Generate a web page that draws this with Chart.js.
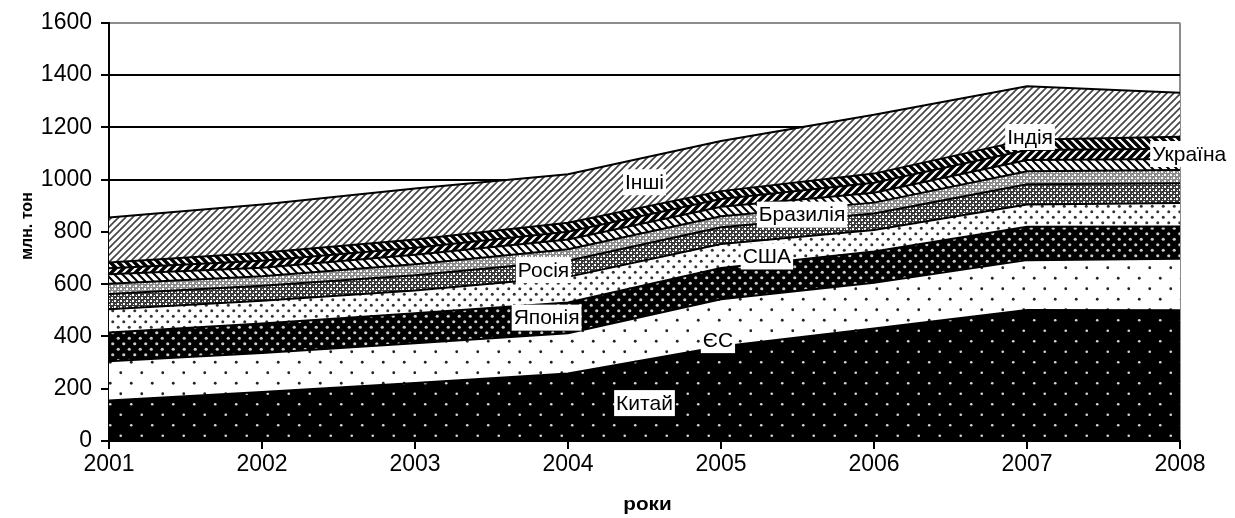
<!DOCTYPE html>
<html>
<head>
<meta charset="utf-8">
<script src="https://cdn.jsdelivr.net/npm/chart.js@4/dist/chart.umd.min.js"></script>
<style>
  html, body { margin: 0; padding: 0; background: #fff; }
</style>
</head>
<body>
<canvas id="steelChart" width="1235" height="518"></canvas>
<script>
// роки
const years = ['2001', '2002', '2003', '2004', '2005', '2006', '2007', '2008'];

// виробництво, млн. тон (знизу вгору)
const china   = [155, 187, 222, 258, 362, 430, 501, 500];
const eu      = [150, 150, 152, 154, 180, 175, 191, 197];
const japan   = [110, 113, 115, 118, 120, 120, 128, 124];
const usa     = [ 89,  87,  87,  98,  92,  82,  85,  90];
const russia  = [ 58,  57,  58,  62,  64,  63,  77,  75];
const korea   = [ 40,  36,  42,  44,  42,  42,  50,  51];
const brazil  = [ 36,  33,  37,  37,  36,  38,  43,  42];
const ukraine = [ 23,  27,  26,  30,  30,  38,  38,  39];
const india   = [ 22,  30,  32,  34,  30,  35,  40,  46];
const others  = [172, 185, 195, 186, 192, 225, 204, 168];

const yTicks = [0, 200, 400, 600, 800, 1000, 1200, 1400, 1600];

const FONT = '"Liberation Sans", Arial, sans-serif';
const ctx = document.getElementById('steelChart').getContext('2d');

// --- patterns ---
function dotPattern(bg, fg, size, r) {
    const c = document.createElement('canvas');
    c.width = size; c.height = size;
    const g = c.getContext('2d');
    g.fillStyle = bg;
    g.fillRect(0, 0, size, size);
    g.fillStyle = fg;
    [[size * 0.25, size * 0.25], [size * 0.75, size * 0.75]].forEach(p => {
        g.beginPath();
        g.arc(p[0], p[1], r, 0, Math.PI * 2);
        g.fill();
    });
    return ctx.createPattern(c, 'repeat');
}

function stripePattern(dir, size, lw, fg, bg) {
    const c = document.createElement('canvas');
    c.width = size; c.height = size;
    const g = c.getContext('2d');
    g.fillStyle = bg;
    g.fillRect(0, 0, size, size);
    g.strokeStyle = fg;
    g.lineWidth = lw;
    g.beginPath();
    if (dir === '/') {
        [0, size, 2 * size].forEach(k => { g.moveTo(k + 2, -2); g.lineTo(-2, k + 2); });
    } else {
        [-size, 0, size].forEach(k => { g.moveTo(k - 2, -2); g.lineTo(k + size + 2, size + 2); });
    }
    g.stroke();
    return ctx.createPattern(c, 'repeat');
}

function checkPattern(bg, fg) {
    const c = document.createElement('canvas');
    c.width = 6; c.height = 6;
    const g = c.getContext('2d');
    g.fillStyle = bg;
    g.fillRect(0, 0, 6, 6);
    g.fillStyle = fg;
    g.fillRect(0, 0, 2, 2);
    g.fillRect(3, 3, 2, 2);
    g.fillRect(1, 4, 1, 1);
    g.fillRect(4, 1, 1, 1);
    return ctx.createPattern(c, 'repeat');
}

const series = [
    { label: 'Китай', data: china, fill: dotPattern('#000', '#d8d8d8', 21, 1.3) },
    { label: 'ЄС', data: eu, fill: dotPattern('#fff', '#222', 21, 1.4) },
    { label: 'Японія', data: japan, fill: dotPattern('#000', '#ccc', 11, 1.6) },
    { label: 'США', data: usa, fill: dotPattern('#fff', '#333', 11, 1.5) },
    { label: 'Росія', data: russia, fill: checkPattern('#3a3a3a', '#fff') },
    { label: 'Корея', data: korea, fill: checkPattern('#8a8a8a', '#fff') },
    { label: 'Бразилія', data: brazil, fill: stripePattern('\\', 8, 2, '#000', '#fff') },
    { label: 'Україна', data: ukraine, fill: stripePattern('/', 8, 3.5, '#000', '#fff') },
    { label: 'Індія', data: india, fill: stripePattern('\\', 8, 3.5, '#000', '#fff') },
    { label: 'Інші', data: others, fill: stripePattern('/', 7, 1.6, '#444', '#fff') }
];

// data labels placed as in the source (x as year index, y in млн. тон)
const areaLabels = [
    { text: 'Китай', x: 3.50, y: 145 },
    { text: 'ЄС', x: 3.98, y: 386 },
    { text: 'Японія', x: 2.86, y: 472 },
    { text: 'США', x: 4.30, y: 706 },
    { text: 'Росія', x: 2.84, y: 654 },
    { text: 'Бразилія', x: 4.53, y: 866 },
    { text: 'Україна', x: 7.06, y: 1098 },
    { text: 'Індія', x: 6.02, y: 1163 },
    { text: 'Інші', x: 3.50, y: 990 }
];

const labelPlugin = {
    id: 'areaLabels',
    afterDatasetsDraw(chart) {
        const c = chart.ctx;
        const xs = chart.scales.x, ys = chart.scales.y;
        c.save();
        c.font = '21px ' + FONT;
        c.textAlign = 'center';
        c.textBaseline = 'middle';
        areaLabels.forEach(l => {
            const px = xs.getPixelForValue(l.x);
            const py = ys.getPixelForValue(l.y);
            const w = c.measureText(l.text).width + 4;
            c.fillStyle = '#fff';
            c.fillRect(px - w / 2, py - 13, w, 26);
            c.fillStyle = '#000';
            c.fillText(l.text, px, py + 1);
        });
        c.restore();
    },
    afterDraw(chart) {
        const c = chart.ctx;
        const a = chart.chartArea;
        c.save();
        c.fillStyle = '#000';
        c.textAlign = 'center';
        c.textBaseline = 'middle';
        // "роки" is a little wider in the source
        c.save();
        c.font = 'bold 18px ' + FONT;
        c.translate((a.left + a.right) / 2 + 3, 505);
        c.scale(1.15, 1);
        c.fillText('роки', 0, 0);
        c.restore();
        c.font = 'bold 16px ' + FONT;
        c.translate(28, 226);
        c.rotate(-Math.PI / 2);
        c.fillText('млн. тон', 0, 0);
        c.restore();
    }
};

new Chart(ctx, {
    type: 'line',
    data: {
        labels: years,
        datasets: series.map((s, i) => ({
            label: s.label,
            data: s.data,
            backgroundColor: s.fill,
            borderColor: '#000',
            borderWidth: 2,
            pointRadius: 0,
            tension: 0,
            fill: i === 0 ? 'origin' : '-1'
        }))
    },
    options: {
        responsive: false,
        animation: false,
        layout: { padding: { top: 22, right: 55, left: 0, bottom: 0 } },
        plugins: {
            legend: { display: false },
            tooltip: { enabled: false }
        },
        scales: {
            x: {
                offset: false,
                afterFit: s => { s.height = 77; },
                border: { display: true, color: '#000', width: 2 },
                grid: {
                    color: c => c.index === years.length - 1 ? '#8c8c8c' : 'rgba(0,0,0,0)',
                    tickColor: '#000',
                    lineWidth: 2,
                    tickWidth: 2,
                    tickLength: 8,
                    drawTicks: true
                },
                ticks: {
                    color: '#000',
                    font: { family: FONT, size: 23 },
                    padding: 2,
                    maxRotation: 0
                }
            },
            y: {
                stacked: true,
                min: 0,
                max: 1600,
                afterFit: s => { s.width = 109; },
                afterBuildTicks: s => { s.ticks = yTicks.map(v => ({ value: v })); },
                border: { display: true, color: '#000', width: 2 },
                grid: {
                    color: c => c.tick && c.tick.value === 1600 ? '#8c8c8c' : '#000',
                    tickColor: '#000',
                    lineWidth: 2,
                    tickWidth: 2,
                    tickLength: 8
                },
                ticks: {
                    color: '#000',
                    font: { family: FONT, size: 23 },
                    padding: 9,
                    callback: v => String(v)
                }
            }
        }
    },
    plugins: [labelPlugin]
});
</script>
</body>
</html>
